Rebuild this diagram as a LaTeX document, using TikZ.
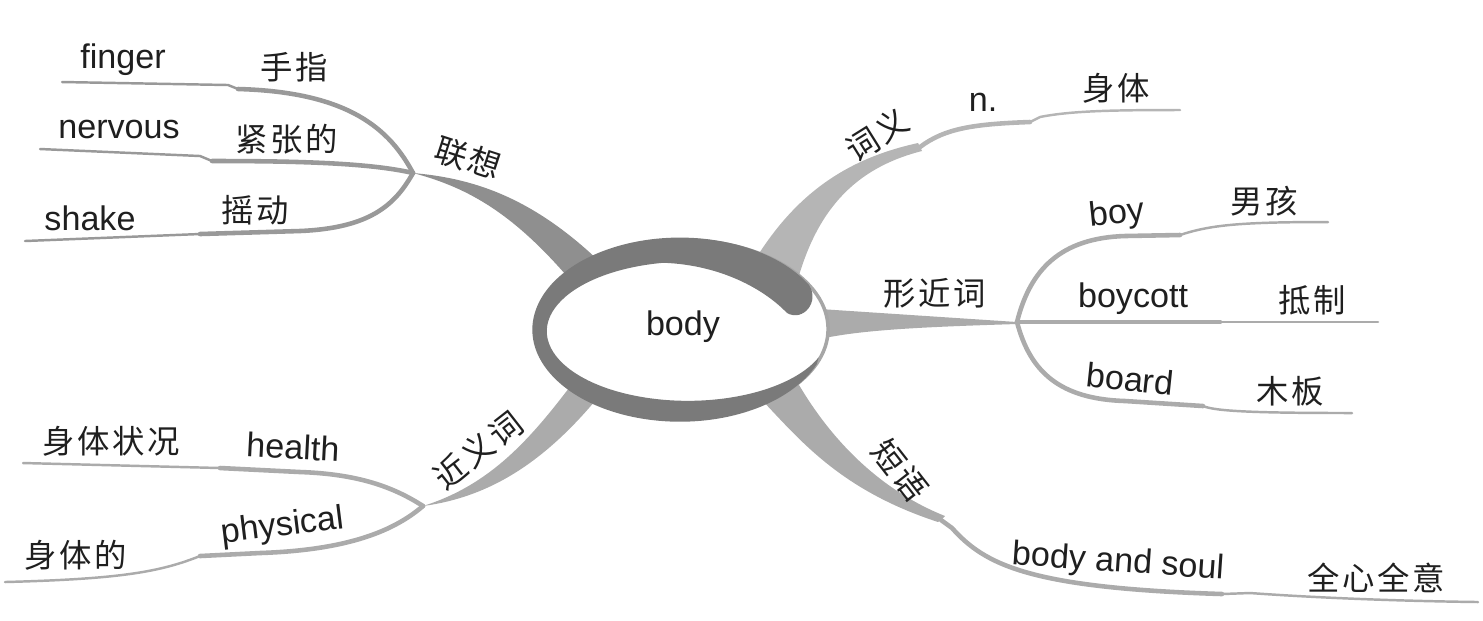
\documentclass[tikz,border=0pt]{standalone}
\usepackage{fontspec}
\setmainfont{Liberation Sans}
\newfontfamily\cjk{Noto Sans CJK SC}[LetterSpace=8]
\usetikzlibrary{positioning}

\begin{document}
\begin{tikzpicture}[x=0.01cm,y=0.01cm,
				en/.style={font=\fontsize{9.7}{11}\selectfont,text=black!88,inner sep=1pt},
				zh/.style={font=\cjk\fontsize{9.2}{11}\selectfont,text=black!88,inner sep=1pt},
				trunk/.style={fill=#1},trunk/.default=black!33,
				twig/.style={draw=#1,line width=1.3pt,line cap=round},twig/.default=black!33,
				tip/.style={draw=#1,line width=0.7pt,line cap=round},tip/.default=black!33,
				ring/.style={fill=black!52}
				]
				\useasboundingbox (0,0) rectangle (1483,-620);
				
				\coordinate (hlx) at (413,-173);
				\coordinate (hxj) at (1017,-322);
				\coordinate (hjy) at (423,-506);
				\coordinate (kcy) at (920,-147);
				\coordinate (kdy) at (941,-520);
				
				\coordinate (kfinger) at (238,-89);
				\coordinate (efinger) at (62,-82);
				\coordinate (knervous) at (212,-161);
				\coordinate (enervous) at (40,-149);
				\coordinate (kshake) at (200,-234);
				\coordinate (eshake) at (25,-241);
				\coordinate (ecy) at (1180,-110);
				\coordinate (kboy) at (1180,-235);
				\coordinate (eboy) at (1328,-222);
				\coordinate (kboycott) at (1220,-322);
				\coordinate (eboycott) at (1378,-322);
				\coordinate (kboard) at (1203,-406);
				\coordinate (eboard) at (1352,-413);
				\coordinate (ksoul) at (1222,-594);
				\coordinate (esoul) at (1478,-602);
				\coordinate (khealth) at (220,-468);
				\coordinate (ehealth) at (23,-463);
				\coordinate (kphysical) at (200,-556);
				\coordinate (ephysical) at (5,-582);
				
				\fill[trunk=black!44] (600,-262) .. controls (530,-195) and (470,-178) .. (hlx)
				.. controls (470,-188) and (515,-215) .. (572,-282) -- cycle;
				\draw[twig=black!40] (hlx) .. controls (390,-130) and (350,-92) .. (kfinger);
				\draw[tip=black!40] (kfinger) -- (228,-85) -- (efinger);
				\draw[twig=black!40] (hlx) .. controls (370,-163) and (300,-161) .. (knervous);
				\draw[tip=black!40] (knervous) -- (200,-156) -- (enervous);
				\draw[twig=black!40] (hlx) .. controls (395,-205) and (370,-228) .. (300,-231) -- (kshake);
				\draw[tip=black!40] (kshake) -- (eshake);
				
				\fill[trunk=black!29] (750,-268) .. controls (790,-200) and (840,-160) .. (918,-143)
				-- (kcy) -- (922,-151) .. controls (855,-168) and (815,-210) .. (795,-290) -- cycle;
				\draw[twig=black!29] (kcy) .. controls (945,-128) and (975,-124) .. (1030,-122);
				\draw[tip=black!29] (1030,-122) -- (1040,-117) .. controls (1070,-111) and (1110,-110) .. (ecy);
				
				\fill[trunk] (820,-309) -- (hxj) -- (1017,-324) .. controls (920,-327) and (860,-330) .. (820,-339) -- cycle;
				\draw[twig] (hxj) .. controls (1030,-270) and (1060,-238) .. (1125,-236) -- (kboy);
				\draw[tip] (kboy) .. controls (1210,-225) and (1240,-222) .. (eboy);
				\draw[twig] (hxj) -- (kboycott);
				\draw[tip] (kboycott) -- (eboycott);
				\draw[twig] (hxj) .. controls (1030,-372) and (1060,-399) .. (1125,-401) -- (kboard);
				\draw[tip] (kboard) .. controls (1215,-411) and (1250,-413) .. (eboard);
				
				\fill[trunk] (760,-398) .. controls (800,-440) and (840,-490) .. (938,-522)
				-- (kdy) -- (945,-516) .. controls (880,-490) and (830,-440) .. (795,-378) -- cycle;
				\draw[twig] (kdy) -- (952,-528) .. controls (985,-565) and (1030,-588) .. (ksoul);
				\draw[tip] (ksoul) -- (1250,-593) .. controls (1320,-598) and (1400,-601) .. (esoul);
				
				\fill[trunk] (575,-380) .. controls (530,-440) and (490,-485) .. (hjy)
				.. controls (490,-497) and (545,-462) .. (600,-395) -- cycle;
				\draw[twig] (hjy) .. controls (395,-488) and (360,-474) .. (300,-472) -- (khealth);
				\draw[tip] (khealth) -- (ehealth);
				\draw[twig] (hjy) .. controls (395,-530) and (350,-550) .. (260,-553) -- (kphysical);
				\draw[tip] (kphysical) .. controls (160,-572) and (120,-579) .. (ephysical);
				
				\draw[draw=black!35,line width=1pt,fill=white] (682,-329) ellipse [x radius=1.46cm,y radius=0.89cm];
				\fill[ring] (809,-285) arc[start angle=29,end angle=338,x radius=1.475cm,y radius=0.92cm]
				-- (818.7,-357.3) arc[start angle=338,end angle=100,x radius=1.41cm,y radius=0.695cm]
				.. controls (722,-265) and (765,-290) .. (787,-313)
				.. controls (803,-322) and (820,-302) .. (809,-285) -- cycle;
				\node[en] (body) at (683,-327) {body};
				
				\node[zh,rotate=-18] (lx) at (468,-158) {联想};
				\node[en] (finger) at (123,-60) {finger};
				\node[zh] (finger-zh) at (294,-67) {手指};
				\node[en] (nervous) at (119,-129) {nervous};
				\node[zh] (nervous-zh) at (287,-139) {紧张的};
				\node[en] (shake) at (90,-218) {shake};
				\node[zh] (shake-zh) at (255,-210) {摇动};
				
				\node[zh,rotate=32] (cy) at (877,-135) {词义};
				\node[en] (pos) at (983,-102) {n.};
				\node[zh] (pos-zh) at (1116,-88) {身体};
				
				\node[zh] (xj) at (935,-293) {形近词};
				\node[en,rotate=6] (boy) at (1117,-215) {boy};
				\node[zh] (boy-zh) at (1264,-201) {男孩};
				\node[en] (boycott) at (1133,-299) {boycott};
				\node[zh] (boycott-zh) at (1312,-300) {抵制};
				\node[en,rotate=-6] (board) at (1130,-379) {board};
				\node[zh] (board-zh) at (1290,-391) {木板};
				
				\node[zh,rotate=-52] (dy) at (900,-470) {短语};
				\node[en,rotate=-4] (soul) at (1118,-563) {body and soul};
				\node[zh] (soul-zh) at (1376,-578) {全心全意};
				
				\node[zh,rotate=38] (jy) at (478,-450) {近义词};
				\node[en,rotate=-3] (health) at (293,-447) {health};
				\node[zh] (health-zh) at (111,-441) {身体状况};
				\node[en,rotate=7] (physical) at (283,-527) {physical};
				\node[zh] (physical-zh) at (76,-555) {身体的};
			\end{tikzpicture}
\end{document}
